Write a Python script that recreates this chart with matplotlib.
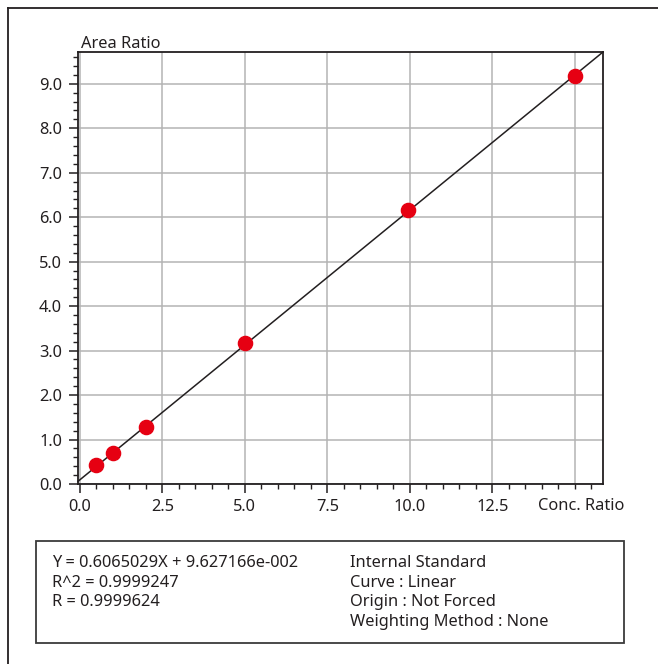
import matplotlib
matplotlib.use("Agg")
import matplotlib.pyplot as plt
from matplotlib.patches import Rectangle
from matplotlib.lines import Line2D
from matplotlib.ticker import MultipleLocator, FormatStrFormatter
import numpy as np

plt.rcParams['font.family'] = ['Noto Sans', 'DejaVu Sans']

# data
conc_ratio = [0.5, 1.0, 2.0, 5.0, 9.94, 15.0]
area_ratio = [0.43, 0.70, 1.28, 3.16, 6.17, 9.18]
slope = 0.6065029
intercept = 9.627166e-002
x_ticks = [0.0, 2.5, 5.0, 7.5, 10.0, 12.5]
y_ticks = [0.0, 1.0, 2.0, 3.0, 4.0, 5.0, 6.0, 7.0, 8.0, 9.0]
info_left = ["Y = 0.6065029X + 9.627166e-002", "R^2 = 0.9999247", "R = 0.9999624"]
info_right = ["Internal Standard", "Curve : Linear", "Origin : Not Forced", "Weighting Method : None"]

W, H = 658, 664
fig = plt.figure(figsize=(W / 100, H / 100), dpi=100)
txt = '#231f20'
fs = 11.8

# outer frame (top and left)
fig.add_artist(Line2D([8 / W, 1.0], [1 - 8 / H, 1 - 8 / H], color=txt, lw=1.3, transform=fig.transFigure))
fig.add_artist(Line2D([8 / W, 8 / W], [0, 1 - 8 / H], color=txt, lw=1.3, transform=fig.transFigure))

l, r, t, b = 78, 603, 52, 484
ax = fig.add_axes([l / W, 1 - b / H, (r - l) / W, (b - t) / H])
xmin, xmax = -0.06, 15.86
ax.set_xlim(xmin, xmax)
ax.set_ylim(0, slope * xmax + intercept)

ax.xaxis.set_major_locator(MultipleLocator(2.5))
ax.xaxis.set_minor_locator(MultipleLocator(0.5))
ax.yaxis.set_major_locator(MultipleLocator(1.0))
ax.yaxis.set_minor_locator(MultipleLocator(0.2))
ax.set_xticks(x_ticks)
ax.set_yticks(y_ticks)
ax.xaxis.set_major_formatter(FormatStrFormatter('%.1f'))
ax.yaxis.set_major_formatter(FormatStrFormatter('%.1f'))

ax.grid(True, which='major', color='#b4b4b4', lw=1.1)
ax.axvline(15.0, color='#b4b4b4', lw=1.1, zorder=0.5)
ax.set_axisbelow(True)

for s in ax.spines.values():
    s.set_color(txt)
    s.set_linewidth(1.3)

ax.tick_params(which='major', direction='out', length=6.5, width=1.1, color=txt,
               labelsize=fs, labelcolor=txt)
ax.tick_params(axis='y', which='major', pad=5)
ax.tick_params(axis='x', which='major', pad=4)
ax.tick_params(which='minor', direction='out', length=3.5, width=1.0, color=txt)

xs = np.array([xmin, xmax])
ax.plot(xs, slope * xs + intercept, color=txt, lw=1.1, zorder=3, clip_on=False)
ax.plot(conc_ratio, area_ratio, 'o', color='#e60012', markersize=10.2, zorder=4, clip_on=False)

fig.text(81 / W, 1 - 48 / H, "Area Ratio", fontsize=fs, color=txt, ha='left', va='baseline')
fig.text(581 / W, 1 - 506 / H, "Conc. Ratio", fontsize=fs, color=txt, ha='center', va='center')

# info box
fig.add_artist(Rectangle((36 / W, 1 - 643 / H), (624 - 36) / W, (643 - 541) / H,
                         fill=False, edgecolor='#3a3a3a', lw=1.3, transform=fig.transFigure))
ys = [563, 583, 602, 622]
for i, s in enumerate(info_left):
    fig.text(52 / W, 1 - ys[i] / H, s, fontsize=fs, color=txt, ha='left', va='center')
for i, s in enumerate(info_right):
    fig.text(350 / W, 1 - ys[i] / H, s, fontsize=fs, color=txt, ha='left', va='center')

fig.savefig("out.png", dpi=100)
